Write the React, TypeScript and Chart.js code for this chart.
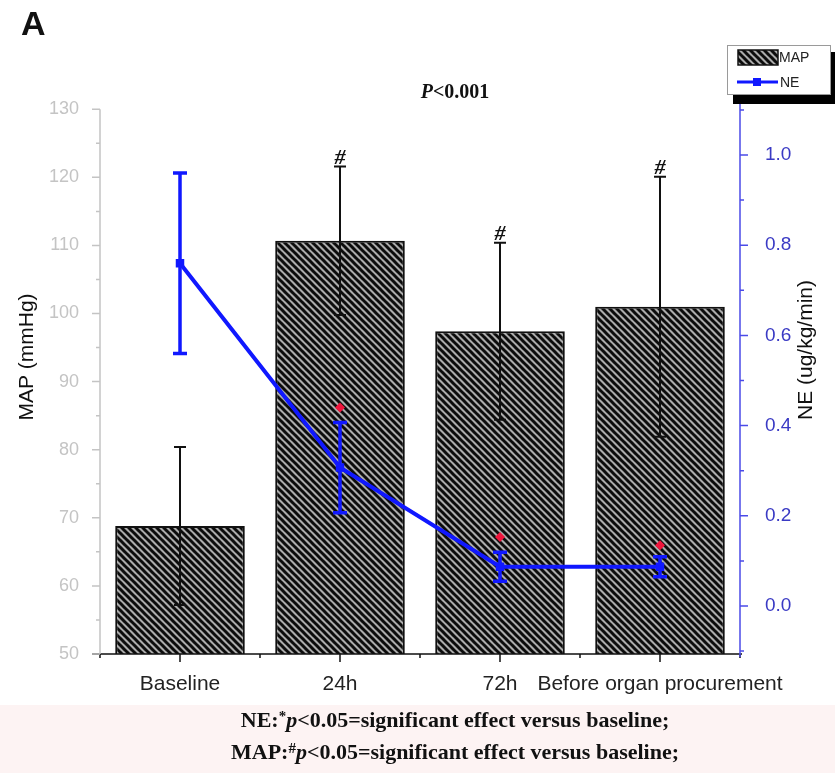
import React, { useEffect, useRef } from 'react';
import { Chart, registerables } from 'chart.js';
Chart.register(...registerables);

const categories = ['Baseline', '24h', '72h', 'Before organ procurement'];
const mapMean = [68.8, 110.7, 97.4, 101.0];
const mapSD = [11.6, 10.9, 13.0, 19.1];
const mapSigMarks = ['', '#', '#', '#'];
const neMean = [0.76, 0.307, 0.087, 0.087];
const neSD = [0.2, 0.1, 0.032, 0.022];
const neSigMarks = [null, 0.44, 0.153, 0.135];
const mapTicks = [50, 60, 70, 80, 90, 100, 110, 120, 130];
const mapMinorTicks = [55, 65, 75, 85, 95, 105, 115, 125];
const neTicks = [0, 0.2, 0.4, 0.6, 0.8, 1.0];
const neMinorTicks = [-0.1, 0.1, 0.3, 0.5, 0.7, 0.9, 1.1];
const titleText = ['P', '<0.001'];
const footLines = [
  ['NE:', '*', 'p', '<0.05=significant effect versus baseline;'],
  ['MAP:', '#', 'p', '<0.05=significant effect versus baseline;'],
];

const SANS = 'Liberation Sans, Arial, sans-serif';
const SERIF = 'Liberation Serif, Times New Roman, serif';
const BLUE = '#1018ff';

function makeHatch(): CanvasPattern | string {
  const c = document.createElement('canvas');
  c.width = 7;
  c.height = 7;
  const g = c.getContext('2d');
  if (!g) return '#555';
  g.fillStyle = '#ababab';
  g.fillRect(0, 0, 7, 7);
  g.strokeStyle = '#0c0c0c';
  g.lineWidth = 3;
  for (const k of [-7, 0, 7]) {
    g.beginPath();
    g.moveTo(k - 1, -1);
    g.lineTo(k + 8, 8);
    g.stroke();
  }
  return g.createPattern(c, 'repeat') || '#555';
}

function vErr(ctx: CanvasRenderingContext2D, x: number, y1: number, y2: number, cap: number) {
  ctx.beginPath();
  ctx.moveTo(x, y1);
  ctx.lineTo(x, y2);
  ctx.moveTo(x - cap, y1);
  ctx.lineTo(x + cap, y1);
  ctx.moveTo(x - cap, y2);
  ctx.lineTo(x + cap, y2);
  ctx.stroke();
}

function drawSegments(ctx: CanvasRenderingContext2D, segs: { t: string; f: string; dy?: number }[], cx: number, y: number) {
  let total = 0;
  for (const s of segs) {
    ctx.font = s.f;
    total += ctx.measureText(s.t).width;
  }
  let x = cx - total / 2;
  ctx.textAlign = 'left';
  ctx.textBaseline = 'alphabetic';
  for (const s of segs) {
    ctx.font = s.f;
    ctx.fillText(s.t, x, y + (s.dy || 0));
    x += ctx.measureText(s.t).width;
  }
}

export default function App() {
  const ref = useRef<HTMLCanvasElement | null>(null);
  useEffect(() => {
    if (!ref.current) return;
    const hatch = makeHatch();

    const decor = {
      id: 'decor',
      beforeDraw(chart: any) {
        const ctx = chart.ctx as CanvasRenderingContext2D;
        ctx.save();
        ctx.fillStyle = '#ffffff';
        ctx.fillRect(0, 0, chart.width, chart.height);
        ctx.fillStyle = '#fdf3f3';
        ctx.fillRect(0, 705, chart.width, chart.height - 705);
        ctx.restore();
      },
      beforeDatasetDraw(chart: any, args: any) {
        if (args.index !== 0) return;
        const ctx = chart.ctx as CanvasRenderingContext2D;
        const xs = chart.scales.x;
        const ys = chart.scales.y;
        ctx.save();
        ctx.strokeStyle = '#111';
        ctx.lineWidth = 2;
        ctx.fillStyle = '#111';
        mapMean.forEach((m, i) => {
          const x = xs.getPixelForValue(i);
          const yt = ys.getPixelForValue(m + mapSD[i]);
          const yb = ys.getPixelForValue(m - mapSD[i]);
          vErr(ctx, x, yt, yb, 6);
          if (mapSigMarks[i]) {
            ctx.font = 'italic bold 22px ' + SERIF;
            ctx.textAlign = 'center';
            ctx.textBaseline = 'bottom';
            ctx.fillText(mapSigMarks[i], x, yt + 3);
          }
        });
        ctx.restore();
      },
      afterDatasetDraw(chart: any, args: any) {
        if (args.index !== 0) return;
        const ctx = chart.ctx as CanvasRenderingContext2D;
        const xs = chart.scales.x;
        const ys = chart.scales.y1;
        ctx.save();
        ctx.strokeStyle = BLUE;
        ctx.lineWidth = 3.5;
        neMean.forEach((m, i) => {
          const x = xs.getPixelForValue(i);
          vErr(ctx, x, ys.getPixelForValue(m + neSD[i]), ys.getPixelForValue(m - neSD[i]), 7);
        });
        ctx.restore();
      },
      afterDraw(chart: any) {
        const ctx = chart.ctx as CanvasRenderingContext2D;
        const ca = chart.chartArea;
        const xs = chart.scales.x;
        const ys = chart.scales.y;
        const y1 = chart.scales.y1;
        ctx.save();
        // x axis
        ctx.strokeStyle = '#111';
        ctx.lineWidth = 1.5;
        ctx.beginPath();
        ctx.moveTo(ca.left - 8, ca.bottom);
        ctx.lineTo(ca.right + 2, ca.bottom);
        categories.forEach((_, i) => {
          const x = xs.getPixelForValue(i);
          ctx.moveTo(x, ca.bottom);
          ctx.lineTo(x, ca.bottom + 8);
        });
        const step = (ca.right - ca.left) / categories.length;
        for (let k = 0; k <= categories.length; k++) {
          const x = ca.left + k * step;
          ctx.moveTo(x, ca.bottom);
          ctx.lineTo(x, ca.bottom + 4);
        }
        ctx.stroke();
        // left axis
        ctx.strokeStyle = '#c4c4c4';
        ctx.lineWidth = 1.5;
        ctx.beginPath();
        ctx.moveTo(ca.left, ys.getPixelForValue(130));
        ctx.lineTo(ca.left, ca.bottom);
        mapTicks.forEach((v) => {
          const y = ys.getPixelForValue(v);
          ctx.moveTo(ca.left, y);
          ctx.lineTo(ca.left - 8, y);
        });
        mapMinorTicks.forEach((v) => {
          const y = ys.getPixelForValue(v);
          ctx.moveTo(ca.left, y);
          ctx.lineTo(ca.left - 4, y);
        });
        ctx.stroke();
        // right axis
        ctx.strokeStyle = '#4b4be8';
        ctx.lineWidth = 1.5;
        ctx.beginPath();
        ctx.moveTo(ca.right, ca.top);
        ctx.lineTo(ca.right, ca.bottom + 3);
        neTicks.forEach((v) => {
          const y = y1.getPixelForValue(v);
          ctx.moveTo(ca.right, y);
          ctx.lineTo(ca.right + 8, y);
        });
        neMinorTicks.forEach((v) => {
          const y = y1.getPixelForValue(v);
          ctx.moveTo(ca.right, y);
          ctx.lineTo(ca.right + 4, y);
        });
        ctx.stroke();

        // axis titles
        ctx.fillStyle = '#111';
        ctx.font = '21px ' + SANS;
        ctx.textAlign = 'center';
        ctx.textBaseline = 'middle';
        ctx.save();
        ctx.translate(27, 357);
        ctx.rotate(-Math.PI / 2);
        ctx.fillText('MAP (mmHg)', 0, 0);
        ctx.restore();
        ctx.save();
        ctx.translate(806, 350);
        ctx.rotate(-Math.PI / 2);
        ctx.fillText('NE (ug/kg/min)', 0, 0);
        ctx.restore();

        // panel letter
        ctx.font = 'bold 34px ' + SANS;
        ctx.textAlign = 'left';
        ctx.textBaseline = 'alphabetic';
        ctx.fillText('A', 21, 35);

        // title
        ctx.fillStyle = '#111';
        drawSegments(ctx, [
          { t: titleText[0], f: 'italic bold 20px ' + SERIF },
          { t: titleText[1], f: 'bold 20px ' + SERIF },
        ], 455, 98);

        // legend
        ctx.fillStyle = '#000';
        ctx.fillRect(733, 52, 110, 52);
        ctx.fillStyle = '#fff';
        ctx.fillRect(727, 45, 104, 50);
        ctx.strokeStyle = '#9a9a9a';
        ctx.lineWidth = 1;
        ctx.strokeRect(727.5, 45.5, 103, 49);
        ctx.fillStyle = hatch as any;
        ctx.fillRect(738, 50, 40, 15);
        ctx.strokeStyle = '#111';
        ctx.lineWidth = 1.5;
        ctx.strokeRect(738, 50, 40, 15);
        ctx.strokeStyle = BLUE;
        ctx.lineWidth = 3;
        ctx.beginPath();
        ctx.moveTo(737, 82);
        ctx.lineTo(778, 82);
        ctx.stroke();
        ctx.fillStyle = BLUE;
        ctx.fillRect(753, 78, 8, 8);
        ctx.fillStyle = '#222';
        ctx.font = '14px ' + SANS;
        ctx.textBaseline = 'middle';
        ctx.fillText('MAP', 779, 58);
        ctx.fillText('NE', 780, 83);

        // footnotes
        ctx.fillStyle = '#111';
        footLines.forEach((ln, i) => {
          drawSegments(ctx, [
            { t: ln[0], f: 'bold 22px ' + SERIF },
            { t: ln[1], f: 'bold 15px ' + SERIF, dy: -6 },
            { t: ln[2], f: 'italic bold 22px ' + SERIF },
            { t: ln[3], f: 'bold 22px ' + SERIF },
          ], 455, 727 + i * 32);
        });
        ctx.restore();
      },
    };

    const chart = new Chart(ref.current, {
      type: 'bar',
      data: {
        labels: categories,
        datasets: [
          {
            type: 'line',
            label: 'NE',
            data: neMean,
            yAxisID: 'y1',
            borderColor: BLUE,
            backgroundColor: BLUE,
            borderWidth: 4,
            pointStyle: 'rect',
            pointRadius: 6,
            pointBorderWidth: 0,
            tension: 0,
            order: 1,
          } as any,
          {
            type: 'line',
            label: 'NE sig',
            data: neSigMarks,
            yAxisID: 'y1',
            showLine: false,
            pointStyle: 'rectRot',
            pointRadius: 5,
            pointBorderWidth: 0,
            backgroundColor: '#f0143c',
            borderColor: '#f0143c',
            order: 0,
          } as any,
          {
            type: 'bar',
            label: 'MAP',
            data: mapMean,
            yAxisID: 'y',
            backgroundColor: hatch as any,
            borderColor: '#111',
            borderWidth: 2,
            barPercentage: 0.81,
            categoryPercentage: 1,
            order: 2,
          } as any,
        ],
      },
      options: {
        responsive: false,
        animation: false,
        layout: { padding: { top: 82, left: 0, right: 0, bottom: 0 } },
        plugins: {
          legend: { display: false },
          title: { display: false },
          tooltip: { enabled: false },
        },
        scales: {
          x: {
            type: 'category',
            offset: true,
            grid: { display: false },
            border: { display: false },
            ticks: {
              color: '#222',
              font: { family: SANS, size: 21 },
              padding: 10,
              maxRotation: 0,
              minRotation: 0,
              autoSkip: false,
            },
            afterFit(s: any) {
              s.height = 119;
            },
          },
          y: {
            position: 'left',
            min: 50,
            max: 134,
            grid: { display: false },
            border: { display: false },
            afterBuildTicks(s: any) {
              s.ticks = mapTicks.map((v) => ({ value: v }));
            },
            ticks: {
              color: '#c4c4c4',
              font: { family: SANS, size: 18 },
              padding: 13,
            },
            afterFit(s: any) {
              s.width = 100;
            },
          },
          y1: {
            position: 'right',
            min: -0.1064,
            max: 1.1619,
            grid: { display: false },
            border: { display: false },
            afterBuildTicks(s: any) {
              s.ticks = neTicks.map((v) => ({ value: v }));
            },
            ticks: {
              color: '#3a3ac4',
              font: { family: SANS, size: 19 },
              padding: 17,
              callback: (v: any) => Number(v).toFixed(1),
            },
            afterFit(s: any) {
              s.width = 95;
            },
          },
        },
      } as any,
      plugins: [decor],
    });
    return () => chart.destroy();
  }, []);

  return (
    <div style={{ position: 'absolute', left: 0, top: 0, width: 835, height: 773 }}>
      <canvas ref={ref} width={835} height={773} style={{ display: 'block' }} />
    </div>
  );
}
